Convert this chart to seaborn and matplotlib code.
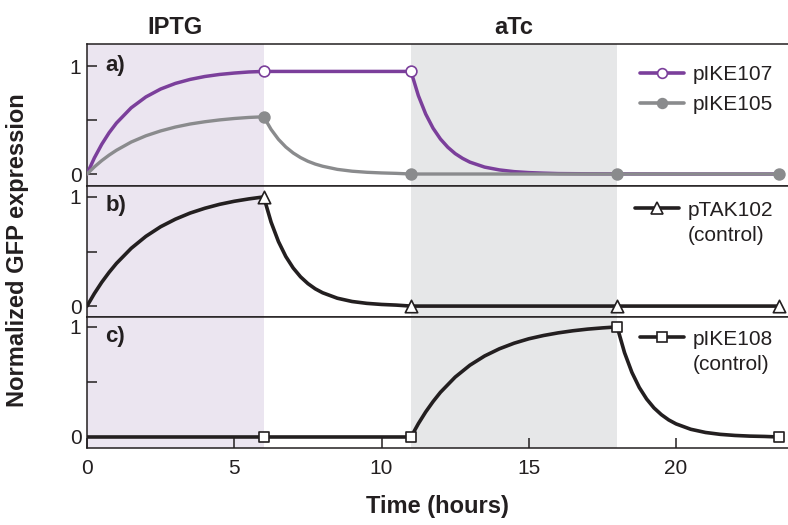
import matplotlib
matplotlib.use("Agg")
import matplotlib.pyplot as plt
from matplotlib.lines import Line2D
import matplotlib.transforms as mtransforms
import pandas as pd
import seaborn as sns

# ---- readings: time (hours) and normalised GFP expression ----
t_pike107 = [0, 0.25, 0.5, 0.75, 1, 1.5, 2, 2.5, 3, 3.5, 4, 4.5, 5, 5.5, 6,
             11, 11.25, 11.5, 11.75, 12, 12.25, 12.5, 12.75, 13, 13.5, 14,
             14.5, 15, 15.5, 16, 17, 18, 20, 23.5]
v_pike107 = [0, 0.149, 0.275, 0.382, 0.472, 0.613, 0.714, 0.787, 0.839, 0.876,
             0.903, 0.922, 0.935, 0.945, 0.95,
             0.95, 0.726, 0.555, 0.424, 0.324, 0.248, 0.189, 0.145, 0.110,
             0.064, 0.038, 0.022, 0.013, 0.008, 0.004, 0.002, 0.001, 0, 0]
m_pike107 = [6, 11]

t_pike105 = [0, 0.25, 0.5, 0.75, 1, 1.5, 2, 2.5, 3, 3.5, 4, 4.5, 5, 5.5, 6,
             6.25, 6.5, 6.75, 7, 7.25, 7.5, 7.75, 8, 8.5, 9, 9.5, 10, 10.5,
             11, 18, 23.5]
v_pike105 = [0, 0.066, 0.124, 0.175, 0.22, 0.296, 0.354, 0.399, 0.435, 0.463,
             0.484, 0.501, 0.514, 0.524, 0.53,
             0.413, 0.321, 0.25, 0.195, 0.152, 0.118, 0.092, 0.072, 0.043,
             0.026, 0.016, 0.01, 0.006, 0, 0, 0]
m_pike105 = [6, 11, 18, 23.5]

t_ptak102 = [0, 0.25, 0.5, 0.75, 1, 1.5, 2, 2.5, 3, 3.5, 4, 4.5, 5, 5.5, 6,
             6.25, 6.5, 6.75, 7, 7.25, 7.5, 7.75, 8, 8.5, 9, 9.5, 10, 10.5,
             11, 18, 23.5]
v_ptak102 = [0, 0.115, 0.218, 0.309, 0.391, 0.529, 0.639, 0.727, 0.796, 0.852,
             0.896, 0.932, 0.96, 0.982, 1.0,
             0.769, 0.591, 0.454, 0.349, 0.268, 0.206, 0.158, 0.122, 0.072,
             0.042, 0.025, 0.015, 0.009, 0, 0, 0]
m_ptak102 = [6, 11, 18, 23.5]

t_pike108 = [0, 6, 11, 11.25, 11.5, 11.75, 12, 12.5, 13, 13.5, 14, 14.5, 15,
             15.5, 16, 16.5, 17, 17.5, 18, 18.25, 18.5, 18.75, 19, 19.25,
             19.5, 19.75, 20, 20.5, 21, 21.5, 22, 22.5, 23, 23.5]
v_pike108 = [0, 0, 0, 0.121, 0.228, 0.322, 0.406, 0.544, 0.652, 0.736, 0.801,
             0.852, 0.892, 0.922, 0.946, 0.965, 0.98, 0.991, 1.0,
             0.766, 0.587, 0.45, 0.345, 0.264, 0.203, 0.155, 0.119, 0.07,
             0.041, 0.024, 0.014, 0.008, 0.005, 0]
m_pike108 = [6, 11, 18, 23.5]

inducers = ["IPTG", "aTc"]
inducer_windows = [(0, 6), (11, 18)]
panel_tags = ["a)", "b)", "c)"]
x_ticks = [0, 5, 10, 15, 20]
y_ticks = [0, 0.5, 1]
y_ticklabels = ["0", "", "1"]

# ---- styling ----
PURPLE = "#7b3f9b"
GREY = "#8a8b8d"
INK = "#231f20"
IPTG_BG = "#ebe5f0"
ATC_BG = "#e6e7e8"

sns.set_theme(style="white")
plt.rcParams["font.family"] = ["Liberation Sans", "DejaVu Sans"]
plt.rcParams["axes.edgecolor"] = INK
plt.rcParams["axes.linewidth"] = 1.1

fig = plt.figure(figsize=(7.88, 5.25), dpi=100)
gs = fig.add_gridspec(3, 1, height_ratios=[142, 131, 131], hspace=0,
                      left=87 / 788, right=1.0, top=1 - 44 / 525,
                      bottom=1 - 448 / 525)
axes = [fig.add_subplot(gs[i]) for i in range(3)]
ylims = [(-0.111, 1.204), (-0.1, 1.1), (-0.1, 1.09)]


def draw(ax, t, v, marks, color, marker, mfc, lw, z):
    df = pd.DataFrame({"time": t, "gfp": v})
    sns.lineplot(data=df, x="time", y="gfp", ax=ax, color=color, lw=lw,
                 estimator=None, sort=False, zorder=z)
    pts = df[df["time"].isin(marks)]
    sns.scatterplot(data=pts, x="time", y="gfp", ax=ax, marker=marker,
                    s=80 if marker == "^" else 60, facecolor=mfc,
                    edgecolor=color, linewidth=1.2, zorder=z + 1,
                    clip_on=False)


for i, ax in enumerate(axes):
    for (a, b), c in zip(inducer_windows, [IPTG_BG, ATC_BG]):
        ax.axvspan(a, b, color=c, lw=0, zorder=0)
    ax.set_xlim(0, 23.8)
    ax.set_ylim(*ylims[i])
    ax.set_yticks(y_ticks)
    ax.set_yticklabels(y_ticklabels)
    ax.set_xticks(x_ticks)
    ax.spines["right"].set_visible(False)
    ax.tick_params(direction="in", length=7, width=1.1, color=INK,
                   labelsize=15, labelcolor=INK, pad=4, left=True,
                   bottom=True)
    if i < 2:
        ax.tick_params(axis="x", bottom=False, labelbottom=False)
    else:
        ax.tick_params(axis="x", pad=8)
    ax.text(0.026, 0.85, panel_tags[i], transform=ax.transAxes,
            fontsize=16, fontweight="bold", color=INK, va="center",
            ha="left")

# panel a
draw(axes[0], t_pike107, v_pike107, m_pike107, PURPLE, "o", "white", 2.5, 3)
draw(axes[0], t_pike105, v_pike105, m_pike105, GREY, "o", GREY, 2.4, 5)
# panel b
draw(axes[1], t_ptak102, v_ptak102, m_ptak102, INK, "^", "white", 2.6, 3)
# panel c
draw(axes[2], t_pike108, v_pike108, m_pike108, INK, "s", "white", 2.6, 3)

for ax in axes:
    ax.set_xlabel("")
    ax.set_ylabel("")


def handle(color, marker, mfc, ms=7):
    return Line2D([], [], color=color, lw=2.6, marker=marker, ms=ms,
                  mfc=mfc, mec=color, mew=1.2)


blank = Line2D([], [], alpha=0)
leg_kw = dict(frameon=False, fontsize=15, handlelength=2.1,
              handletextpad=0.45, borderaxespad=0.3, loc="upper right",
              labelcolor=INK)
axes[0].legend([handle(PURPLE, "o", "white"), handle(GREY, "o", GREY)],
               ["pIKE107", "pIKE105"], labelspacing=0.55,
               bbox_to_anchor=(1.0, 0.955), **leg_kw)
axes[1].legend([handle(INK, "^", "white", 8), blank],
               ["pTAK102", "(control)"], labelspacing=0.3,
               bbox_to_anchor=(1.0, 1.0), **leg_kw)
axes[2].legend([handle(INK, "s", "white"), blank],
               ["pIKE108", "(control)"], labelspacing=0.3,
               bbox_to_anchor=(1.0, 1.015), **leg_kw)

# inducer headers above the top panel
blend = mtransforms.blended_transform_factory(axes[0].transData, fig.transFigure)
for name, (a, b) in zip(inducers, inducer_windows):
    fig.text((a + b) / 2, 1 - 28 / 525, name, transform=blend, ha="center",
             va="center", fontsize=17, fontweight="bold", color=INK)

fig.text(18 / 788, 1 - 250 / 525, "Normalized GFP expression",
         rotation=90, ha="center", va="center", fontsize=17,
         fontweight="bold", color=INK)
fig.text((87 + 788) / 2 / 788, 1 - 507 / 525, "Time (hours)", ha="center",
         va="center", fontsize=17, fontweight="bold", color=INK)

fig.savefig("out.png", dpi=100)
